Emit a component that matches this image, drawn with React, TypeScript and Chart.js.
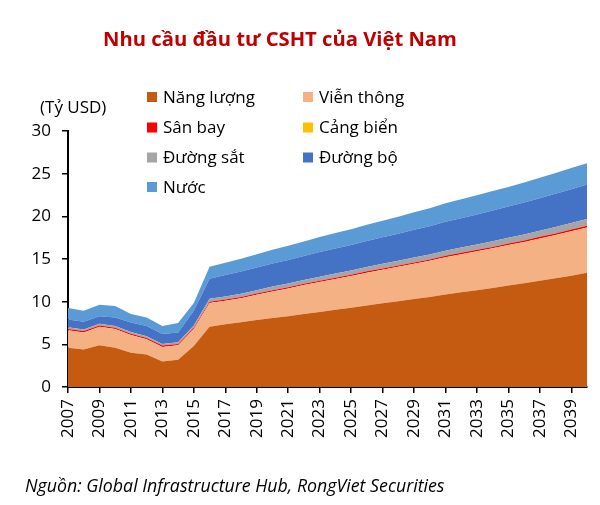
import React, { useEffect, useRef } from "react";
import { Chart, registerables } from "chart.js";

Chart.register(...registerables);

const years = [
  2007, 2008, 2009, 2010, 2011, 2012, 2013, 2014, 2015, 2016, 2017, 2018,
  2019, 2020, 2021, 2022, 2023, 2024, 2025, 2026, 2027, 2028, 2029, 2030,
  2031, 2032, 2033, 2034, 2035, 2036, 2037, 2038, 2039, 2040,
];
const tickYears = [
  2007, 2009, 2011, 2013, 2015, 2017, 2019, 2021, 2023, 2025, 2027, 2029,
  2031, 2033, 2035, 2037, 2039,
];
const yTicks = [0, 5, 10, 15, 20, 25, 30];

const nangLuong = [
  4.6, 4.4, 4.9, 4.6, 4.0, 3.8, 3.0, 3.2, 4.8, 7.05, 7.35, 7.6,
  7.85, 8.1, 8.3, 8.55, 8.8, 9.05, 9.3, 9.55, 9.8, 10.05, 10.3, 10.55,
  10.85, 11.1, 11.35, 11.6, 11.9, 12.15, 12.45, 12.75, 13.05, 13.4,
];
const vienThong = [
  2.05, 2.0, 2.15, 2.2, 2.1, 1.8, 1.7, 1.7, 2.0, 2.8, 2.75, 2.8,
  2.95, 3.1, 3.25, 3.4, 3.5, 3.6, 3.7, 3.85, 3.95, 4.05, 4.15, 4.25,
  4.35, 4.45, 4.55, 4.65, 4.75, 4.85, 4.95, 5.05, 5.2, 5.3,
];
const sanBay = [
  0.15, 0.15, 0.15, 0.15, 0.15, 0.15, 0.15, 0.15, 0.15, 0.15, 0.15, 0.15,
  0.15, 0.15, 0.15, 0.15, 0.15, 0.15, 0.15, 0.15, 0.15, 0.15, 0.15, 0.15,
  0.17, 0.17, 0.17, 0.17, 0.17, 0.17, 0.2, 0.2, 0.2, 0.2,
];
const cangBien = [
  0, 0, 0, 0, 0, 0, 0, 0, 0, 0, 0, 0,
  0, 0, 0, 0, 0, 0, 0, 0, 0, 0, 0, 0,
  0, 0, 0, 0, 0, 0, 0, 0, 0, 0,
];
const duongSat = [
  0.2, 0.2, 0.2, 0.2, 0.2, 0.2, 0.2, 0.2, 0.25, 0.35, 0.37, 0.38,
  0.4, 0.42, 0.44, 0.45, 0.47, 0.49, 0.5, 0.52, 0.54, 0.55, 0.57, 0.59,
  0.6, 0.62, 0.64, 0.66, 0.68, 0.7, 0.72, 0.74, 0.76, 0.78,
];
const duongBo = [
  0.9, 0.9, 0.9, 1.0, 1.1, 1.2, 1.15, 1.15, 1.75, 2.35, 2.5, 2.6,
  2.65, 2.7, 2.75, 2.8, 2.9, 2.95, 3.0, 3.05, 3.1, 3.15, 3.25, 3.3,
  3.4, 3.45, 3.5, 3.6, 3.65, 3.75, 3.8, 3.9, 3.95, 4.05,
];
const nuoc = [
  1.35, 1.3, 1.35, 1.35, 1.0, 1.0, 0.95, 1.1, 0.9, 1.4, 1.45, 1.5,
  1.55, 1.6, 1.65, 1.7, 1.75, 1.8, 1.85, 1.9, 1.95, 2.0, 2.05, 2.1,
  2.15, 2.2, 2.25, 2.3, 2.3, 2.35, 2.4, 2.45, 2.5, 2.5,
];

const seriesNames = [
  "Năng lượng",
  "Viễn thông",
  "Sân bay",
  "Cảng biển",
  "Đường sắt",
  "Đường bộ",
  "Nước",
];
const seriesData = [nangLuong, vienThong, sanBay, cangBien, duongSat, duongBo, nuoc];
const seriesColors = [
  "#C55A11",
  "#F4B183",
  "#FF0000",
  "#FFC000",
  "#A5A5A5",
  "#4472C4",
  "#5B9BD5",
];

const TITLE = "Nhu cầu đầu tư CSHT của Việt Nam";
const UNIT = "(Tỷ USD)";
const SOURCE = "Nguồn: Global Infrastructure Hub, RongViet Securities";
const FONT = '"Open Sans", "Noto Sans", sans-serif';

function fitSize(ctx: CanvasRenderingContext2D, text: string, prefix: string, target: number) {
  ctx.font = `${prefix} 20px ${FONT}`;
  const w = ctx.measureText(text).width;
  return (20 * target) / w;
}

const textPlugin = {
  id: "texts",
  afterDraw(chart: any) {
    const ctx: CanvasRenderingContext2D = chart.ctx;
    ctx.save();
    // title
    const ts = fitSize(ctx, TITLE, "bold", 354);
    ctx.font = `bold ${ts}px ${FONT}`;
    ctx.fillStyle = "#C00000";
    ctx.textAlign = "center";
    ctx.textBaseline = "alphabetic";
    ctx.fillText(TITLE, 280, 45.5);

    // unit label
    ctx.fillStyle = "#000";
    ctx.textAlign = "left";
    ctx.textBaseline = "middle";
    ctx.font = `17px ${FONT}`;
    ctx.fillText(UNIT, 40, 108);

    // legend
    const rows = [97, 127.5, 157.5, 187];
    const cols = [147, 303];
    seriesNames.forEach((name, i) => {
      const r = Math.floor(i / 2);
      const c = i % 2;
      const x = cols[c];
      const y = rows[r];
      ctx.fillStyle = seriesColors[i];
      ctx.fillRect(x, y - 5, 10, 10);
      ctx.fillStyle = "#000";
      ctx.font = `17px ${FONT}`;
      ctx.fillText(name, x + 16, y + 1);
    });

    // source
    const ss = fitSize(ctx, SOURCE, "italic", 420);
    ctx.font = `italic ${ss}px ${FONT}`;
    ctx.textBaseline = "alphabetic";
    ctx.fillStyle = "#000";
    ctx.fillText(SOURCE, 25, 492);
    ctx.restore();
  },
};

export default function App() {
  const ref = useRef<HTMLCanvasElement>(null);
  useEffect(() => {
    if (!ref.current) return;
    const datasets = seriesNames.map((name, i) => ({
      label: name,
      data: years.map((yr, j) => ({ x: yr, y: seriesData[i][j] })),
      backgroundColor: seriesColors[i],
      borderColor: seriesColors[i],
      borderWidth: 0,
      pointRadius: 0,
      tension: 0,
      fill: i === 0 ? "origin" : "-1",
    }));
    const chart = new Chart(ref.current, {
      type: "line",
      data: { datasets },
      plugins: [textPlugin],
      options: {
        animation: false,
        responsive: false,
        devicePixelRatio: 1,
        layout: { padding: { top: 131, right: 13, left: 0, bottom: 0 } },
        plugins: {
          legend: { display: false },
          title: { display: false },
          tooltip: { enabled: false },
        },
        scales: {
          x: {
            type: "linear",
            min: 2007,
            max: 2040,
            afterBuildTicks: (s: any) => {
              s.ticks = tickYears.map((v) => ({ value: v }));
            },
            afterFit: (s: any) => {
              s.height = 118;
            },
            ticks: {
              autoSkip: false,
              maxRotation: 90,
              minRotation: 90,
              padding: 6,
              color: "#000",
              font: { size: 17, family: FONT },
              callback: (v: any) => String(v),
            },
            grid: {
              drawOnChartArea: false,
              drawTicks: true,
              tickLength: 6,
              color: "#000",
              lineWidth: 1.5,
            },
            border: { display: true, color: "#000", width: 2 },
          },
          y: {
            stacked: true,
            min: 0,
            max: 30,
            afterBuildTicks: (s: any) => {
              s.ticks = yTicks.map((v) => ({ value: v }));
            },
            afterFit: (s: any) => {
              s.width = 68;
            },
            ticks: {
              padding: 11,
              color: "#000",
              font: { size: 17, family: FONT },
            },
            grid: {
              drawOnChartArea: false,
              drawTicks: true,
              tickLength: 6,
              color: "#000",
              lineWidth: 1.5,
            },
            border: { display: true, color: "#000", width: 2 },
          },
        },
      } as any,
    });
    return () => chart.destroy();
  }, []);
  return (
    <div style={{ position: "absolute", left: 0, top: 0, width: 600, height: 505 }}>
      <canvas ref={ref} width={600} height={505} />
    </div>
  );
}
